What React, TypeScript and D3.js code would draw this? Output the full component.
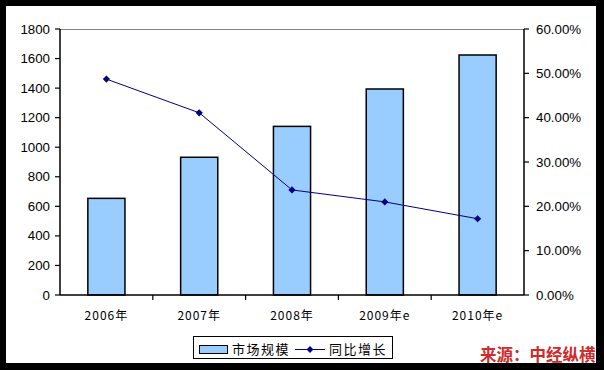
import React from "react";
import * as d3 from "d3";

const categories = ["2006年", "2007年", "2008年", "2009年e", "2010年e"];
const marketSize = [654, 932, 1141, 1394, 1624];
const growth = [48.7, 41.1, 23.7, 21.0, 17.2];
const leftTicks = [0, 200, 400, 600, 800, 1000, 1200, 1400, 1600, 1800];
const rightTicks = [0, 10, 20, 30, 40, 50, 60];
const seriesNames = ["市场规模", "同比增长"];
const sourceText = "来源：中经纵横";

const W = 604, H = 370;
const L = 60, R = 524, T = 29, B = 295;

export default function App() {
  const x = d3.scaleBand<string>().domain(categories).range([L, R]).paddingInner(0).paddingOuter(0);
  const yL = d3.scaleLinear().domain([0, 1800]).range([B, T]);
  const yR = d3.scaleLinear().domain([0, 60]).range([B, T]);
  const bw = x.bandwidth() * 0.4;
  const line = d3.line<number>()
    .x((_, i) => (x(categories[i]) as number) + x.bandwidth() / 2)
    .y((d) => yR(d));
  const font = "Arial, 'Liberation Sans', sans-serif";
  const cjk = "'Noto Sans CJK SC', 'DejaVu Sans', sans-serif";
  const diamond = (cx: number, cy: number, r = 3.6) =>
    `M${cx},${cy - r}L${cx + r},${cy}L${cx},${cy + r}L${cx - r},${cy}Z`;

  return (
    <svg width={W} height={H} style={{ position: "absolute", left: 0, top: 0 }}>
      <rect x={0} y={0} width={W} height={H} fill="#000" />
      <rect x={6} y={6} width={590} height={357} fill="#fff" />
      {/* top border gray */}
      <line x1={L} x2={R} y1={T + 0.5} y2={T + 0.5} stroke="#808080" strokeWidth={1} />
      {/* bars */}
      {marketSize.map((v, i) => {
        const cx = (x(categories[i]) as number) + x.bandwidth() / 2;
        return (
          <rect key={i} x={cx - bw / 2} y={yL(v)} width={bw} height={B - yL(v)}
            fill="#99ccff" stroke="#000" strokeWidth={1.5} />
        );
      })}
      {/* axes */}
      <line x1={L} x2={L} y1={T} y2={B} stroke="#000" strokeWidth={1.5} />
      <line x1={R} x2={R} y1={T} y2={B} stroke="#000" strokeWidth={1.5} />
      <line x1={L} x2={R} y1={B} y2={B} stroke="#000" strokeWidth={1.5} />
      {leftTicks.map((t) => (
        <g key={t}>
          <line x1={L - 5} x2={L} y1={yL(t)} y2={yL(t)} stroke="#000" strokeWidth={1.2} />
          <text x={50} y={yL(t) + 4.5} textAnchor="end" fontFamily={font} fontSize={13.3} fill="#000">{t}</text>
        </g>
      ))}
      {rightTicks.map((t) => (
        <g key={t}>
          <line x1={R} x2={R + 5} y1={yR(t)} y2={yR(t)} stroke="#000" strokeWidth={1.2} />
          <text x={536} y={yR(t) + 4.5} textAnchor="start" fontFamily={font} fontSize={13.3} fill="#000">{t.toFixed(2) + "%"}</text>
        </g>
      ))}
      {categories.map((c, i) => {
        const x0 = x(c) as number;
        return (
          <g key={c}>
            {i > 0 && <line x1={x0} x2={x0} y1={B} y2={B + 5} stroke="#000" strokeWidth={1.2} />}
            <text x={x0 + x.bandwidth() / 2} y={320} textAnchor="middle" fontFamily={cjk} fontSize={12} letterSpacing={1} fill="#000">{c}</text>
          </g>
        );
      })}
      {/* line */}
      <path d={line(growth) || ""} fill="none" stroke="#000080" strokeWidth={1} />
      {growth.map((g, i) => (
        <path key={i} d={diamond((x(categories[i]) as number) + x.bandwidth() / 2, yR(g))} fill="#000080" />
      ))}
      {/* legend */}
      <rect x={193.5} y={336.5} width={199} height={22} fill="#fff" stroke="#000" strokeWidth={1} />
      <rect x={199.5} y={345.5} width={28} height={8} fill="#99ccff" stroke="#000" strokeWidth={1} />
      <text x={232} y={354} fontFamily={cjk} fontSize={13} letterSpacing={1.5} fill="#000">{seriesNames[0]}</text>
      <line x1={295} x2={325} y1={349.5} y2={349.5} stroke="#000080" strokeWidth={1} />
      <path d={diamond(310, 349.5, 3.4)} fill="#000080" />
      <text x={329} y={354} fontFamily={cjk} fontSize={13} letterSpacing={1.5} fill="#000">{seriesNames[1]}</text>
      {/* source */}
      <text x={480} y={361} fontFamily={cjk} fontSize={16.5} fontWeight="bold" fill="#d02a2a">{sourceText}</text>
    </svg>
  );
}
